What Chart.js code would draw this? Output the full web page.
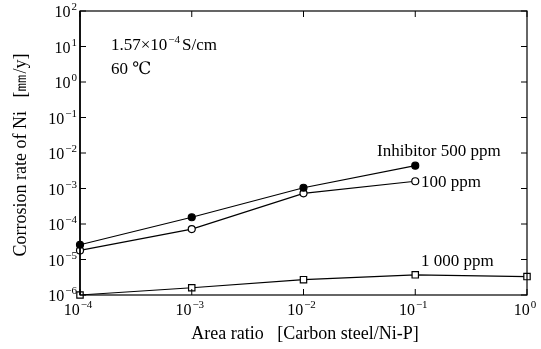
<!DOCTYPE html>
<html>
<head>
<meta charset="utf-8">
<script src="https://cdn.jsdelivr.net/npm/chart.js@4"></script>
<style>
  html, body { margin: 0; padding: 0; background: #fff; }
  #wrap { width: 541px; height: 349px; position: relative; }
</style>
</head>
<body>
<div id="wrap"><canvas id="corrChart"></canvas></div>
<script>
// area ratio (carbon steel / Ni-P)
const areaRatio = [1e-4, 1e-3, 1e-2, 1e-1, 1];
// corrosion rate of Ni, mm/y
const rate500 = [2.6e-5, 1.55e-4, 1.05e-3, 4.4e-3];
const rate100 = [1.8e-5, 7.2e-5, 7.3e-4, 1.6e-3];
const rate1000 = [1.0e-6, 1.6e-6, 2.7e-6, 3.7e-6, 3.3e-6];
const xTicks = [1e-4, 1e-3, 1e-2, 1e-1, 1];
const yTicks = [1e-6, 1e-5, 1e-4, 1e-3, 1e-2, 1e-1, 1, 10, 100];

const serif = '"Liberation Serif", "DejaVu Serif", serif';

function points(ys) {
    return ys.map((y, i) => ({ x: areaRatio[i], y: y }));
}

function expOf(v) {
    const e = Math.round(Math.log10(v));
    return e < 0 ? '\u2212' + (-e) : String(e);
}

// draws "10" with a raised exponent; (x, y) = anchor, align = 'right' | 'center'
function drawPow(c, v, x, y, align) {
    const e = expOf(v);
    c.font = '16px ' + serif;
    const wb = c.measureText('10').width;
    c.font = '11px ' + serif;
    const we = c.measureText(e).width;
    const w = wb + we + 1;
    const x0 = align === 'right' ? x - w : x - w / 2;
    c.textAlign = 'left';
    c.textBaseline = 'alphabetic';
    c.font = '16px ' + serif;
    c.fillText('10', x0, y);
    c.font = '11px ' + serif;
    c.fillText(e, x0 + wb + 1, y - 7);
}

// frame, inward ticks, tick labels, titles and notes
const framePlugin = {
    id: 'frame',
    afterDraw(chart) {
        const c = chart.ctx;
        const a = chart.chartArea;
        const xs = chart.scales.x, ys = chart.scales.y;
        c.save();
        c.strokeStyle = '#000';
        c.lineWidth = 1.2;
        c.strokeRect(a.left, a.top, a.right - a.left, a.bottom - a.top);
        c.lineWidth = 1.6;
        c.beginPath();
        c.moveTo(a.left, a.top); c.lineTo(a.left, a.bottom);
        c.stroke();
        c.lineWidth = 1;
        yTicks.forEach(v => {
            const p = ys.getPixelForValue(v);
            c.beginPath();
            c.moveTo(a.left, p); c.lineTo(a.left + 6, p);
            c.moveTo(a.right, p); c.lineTo(a.right - 6, p);
            c.stroke();
        });
        xTicks.forEach(v => {
            const p = xs.getPixelForValue(v);
            c.beginPath();
            c.moveTo(p, a.bottom); c.lineTo(p, a.bottom - 6);
            c.moveTo(p, a.top); c.lineTo(p, a.top + 6);
            c.stroke();
        });

        c.fillStyle = '#000';
        yTicks.forEach(v => drawPow(c, v, a.left - 3, ys.getPixelForValue(v) + 6, 'right'));
        xTicks.forEach(v => drawPow(c, v, xs.getPixelForValue(v) - 2, a.bottom + 20, 'center'));

        // axis titles
        c.font = '18px ' + serif;
        c.textAlign = 'center';
        c.textBaseline = 'middle';
        c.fillText('Area ratio   [Carbon steel/Ni-P]', 305, 334);
        c.save();
        c.translate(21, 155);
        c.rotate(-Math.PI / 2);
        c.fillText('Corrosion rate of Ni   [㎜/y]', 0, 0);
        c.restore();

        // notes
        c.font = '17px ' + serif;
        c.textAlign = 'left';
        c.fillText('1.57×10', 111, 46);
        const w = c.measureText('1.57×10').width;
        c.font = '11px ' + serif;
        c.fillText('\u22124', 111 + w + 1, 40);
        const w2 = c.measureText('\u22124').width;
        c.font = '17px ' + serif;
        c.fillText('S/cm', 111 + w + w2 + 3, 46);
        c.fillText('60 ℃', 111, 70);
        c.fillText('Inhibitor 500 ppm', 377, 152);
        c.fillText('100 ppm', 421, 183);
        c.fillText('1 000 ppm', 421, 262);
        c.restore();
    }
};

const ctx = document.getElementById('corrChart').getContext('2d');
const corrChart = new Chart(ctx, {
    type: 'line',
    data: {
        datasets: [{
            label: 'Inhibitor 500 ppm',
            data: points(rate500),
            borderColor: '#000',
            backgroundColor: '#000',
            pointStyle: 'circle',
            pointRadius: 3.5,
            borderWidth: 1.2,
            clip: false
        }, {
            label: '100 ppm',
            data: points(rate100),
            borderColor: '#000',
            backgroundColor: '#fff',
            pointStyle: 'circle',
            pointRadius: 3.5,
            pointBorderWidth: 1.2,
            borderWidth: 1.2,
            clip: false
        }, {
            label: '1 000 ppm',
            data: points(rate1000),
            borderColor: '#000',
            backgroundColor: '#fff',
            pointStyle: 'rect',
            pointRadius: 4.5,
            pointBorderWidth: 1.2,
            borderWidth: 1.2,
            clip: false
        }]
    },
    options: {
        responsive: true,
        maintainAspectRatio: false,
        animation: false,
        layout: { padding: { top: 11, right: 14, left: 0, bottom: 0 } },
        plugins: {
            legend: { display: false },
            tooltip: { enabled: false }
        },
        scales: {
            x: {
                type: 'logarithmic',
                min: 1e-4,
                max: 1,
                afterBuildTicks: s => { s.ticks = xTicks.map(v => ({ value: v })); },
                afterFit: s => { s.height = 54; },
                grid: { display: false, drawTicks: false },
                border: { display: false },
                ticks: { display: false }
            },
            y: {
                type: 'logarithmic',
                min: 1e-6,
                max: 100,
                afterBuildTicks: s => { s.ticks = yTicks.map(v => ({ value: v })); },
                afterFit: s => { s.width = 80; },
                grid: { display: false, drawTicks: false },
                border: { display: false },
                ticks: { display: false }
            }
        }
    },
    plugins: [framePlugin]
});
</script>
</body>
</html>
